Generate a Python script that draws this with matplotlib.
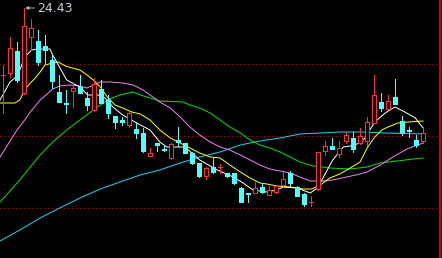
import matplotlib
matplotlib.use("Agg")
import matplotlib.pyplot as plt

# daily candles (price units)
opens = [23.09, 23.13, 23.57, 22.73, 23.85, 23.77, 23.67, 23.39, 22.75, 22.53,
         22.77, 22.85, 22.63, 22.39, 22.81, 22.59, 22.27, 22.19, 22.09, 22.01,
         21.93, 21.47, 21.73, 21.61, 21.43, 21.79, 21.73, 21.53, 21.33, 21.07,
         21.25, 21.25, 21.13, 21.13, 20.83, 20.73, 20.73, 20.85, 20.69, 20.75,
         20.89, 21.13, 20.85, 20.71, 20.55, 20.81, 21.57, 21.67, 21.51, 21.77,
         21.83, 21.73, 21.77, 22.13, 22.55, 22.41, 22.65, 22.17, 21.99, 21.79,
         21.77]
closes = [23.09, 23.63, 22.99, 24.07, 24.03, 23.35, 23.59, 22.97, 22.55, 22.51,
          22.83, 22.73, 22.49, 22.91, 22.53, 22.33, 22.15, 22.15, 22.33, 21.93,
          21.57, 21.53, 21.69, 21.59, 21.71, 21.75, 21.53, 21.33, 21.07, 21.23,
          21.15, 21.25, 21.07, 20.93, 20.55, 20.71, 20.83, 20.75, 20.79, 20.87,
          21.01, 20.93, 20.67, 20.51, 20.55, 21.55, 21.67, 21.61, 21.63, 21.89,
          21.61, 21.87, 22.15, 22.69, 22.43, 22.57, 22.51, 21.93, 21.97, 21.69,
          21.93]
highs = [23.29, 23.85, 23.75, 24.43, 24.21, 23.99, 23.89, 23.49, 23.09, 22.79,
         22.95, 23.09, 22.75, 23.03, 22.99, 22.69, 22.27, 22.25, 22.39, 22.15,
         22.03, 21.63, 21.73, 21.69, 21.73, 22.05, 21.73, 21.55, 21.33, 21.25,
         21.43, 21.31, 21.13, 21.13, 20.85, 20.73, 20.95, 20.93, 20.87, 20.89,
         21.15, 21.17, 20.87, 20.73, 20.67, 21.55, 21.77, 21.83, 21.77, 21.95,
         21.95, 22.03, 22.25, 23.09, 22.73, 22.69, 23.01, 22.27, 22.05, 21.89,
         22.05]
lows = [22.33, 23.05, 22.95, 22.71, 23.59, 23.29, 23.33, 22.83, 22.55, 22.33,
        22.45, 22.73, 22.39, 22.37, 22.53, 22.23, 22.03, 22.09, 22.05, 21.83,
        21.55, 21.47, 21.57, 21.57, 21.41, 21.67, 21.53, 21.31, 21.05, 21.01,
        21.13, 21.13, 21.05, 20.91, 20.55, 20.55, 20.73, 20.73, 20.69, 20.73,
        20.87, 20.87, 20.67, 20.47, 20.47, 20.79, 21.49, 21.61, 21.45, 21.73,
        21.55, 21.71, 21.69, 22.13, 22.37, 22.41, 22.51, 21.89, 21.85, 21.65,
        21.73]

ma5_pos = [-0.43, 1.0, 1.7, 2.4, 3.1, 4.1, 4.9, 6.7, 7.1, 7.9, 9.1, 9.9, 11, 12.1,
           13.6, 14.6, 15.7, 17.1, 19.1, 21, 22.4, 23.4, 26, 28.1, 30.6, 32.9,
           34.3, 35.7, 37.7, 39.1, 40, 42, 43.9, 44.9, 45.7, 47.1, 48.6, 49.6,
           51, 51.7, 53.1, 54.6, 56, 57.4, 58.9, 60]
ma5 = [22.59, 22.95, 23.03, 23.19, 23.45, 23.59, 23.61, 23.61, 23.49, 23.29,
       22.99, 22.93, 22.85, 22.69, 22.69, 22.63, 22.45, 22.29, 22.13, 21.99,
       21.75, 21.65, 21.65, 21.39, 21.19, 21.05, 20.93, 20.79, 20.75, 20.79,
       20.85, 20.83, 20.73, 20.83, 21.03, 21.39, 21.65, 21.67, 21.73, 21.83,
       22.15, 22.33, 22.45, 22.35, 22.23, 22.03]

ma10_pos = [-0.43, 1.7, 2.4, 3.1, 3.9, 4.6, 5.3, 6.0, 7.1, 7.9, 8.9, 9.9, 11, 12,
            12.9, 13.9, 14.9, 16, 17.1, 18.4, 19.6, 21, 22.4, 23.9, 25.3, 26.7,
            28.1, 29.6, 31, 32.4, 33.9, 35.3, 36.7, 37.7, 39.1, 41, 42.9, 44.1,
            45.3, 46.7, 48.1, 49.6, 51, 52.1, 53.1, 54.1, 55, 56.4, 57.9, 60]
ma10 = [22.53, 22.53, 22.59, 22.79, 22.93, 23.03, 23.15, 23.29, 23.33, 23.35,
        23.27, 23.23, 23.19, 23.09, 22.99, 22.85, 22.65, 22.49, 22.43, 22.35,
        22.31, 22.19, 21.99, 21.83, 21.73, 21.63, 21.53, 21.45, 21.43, 21.29,
        21.15, 21.03, 20.93, 20.91, 20.87, 20.85, 20.81, 20.81, 20.89, 21.03,
        21.11, 21.23, 21.35, 21.65, 21.85, 21.99, 22.05, 22.13, 22.15, 22.17]

ma20_pos = [-0.43, 2.0, 3.1, 3.9, 4.6, 5.3, 6.3, 7.1, 8.1, 9.6, 11, 12, 12.9, 13.9,
            15.3, 17.1, 18.6, 20, 21, 22.4, 23.9, 25.3, 26.7, 28.1, 29.6, 31,
            32.4, 33.9, 35.3, 36.7, 38.1, 39.6, 41, 42.4, 43.9, 45.7, 47.1, 49.1,
            51, 52, 53.9, 55.7, 57.7, 60]
ma20 = [21.45, 21.99, 22.19, 22.35, 22.47, 22.59, 22.71, 22.81, 22.87, 22.89,
        22.87, 22.83, 22.89, 22.95, 22.95, 22.93, 22.89, 22.79, 22.69, 22.55,
        22.43, 22.25, 22.05, 21.89, 21.75, 21.65, 21.59, 21.49, 21.39, 21.29,
        21.21, 21.17, 21.13, 21.05, 20.97, 20.97, 20.99, 21.05, 21.11, 21.15,
        21.29, 21.45, 21.61, 21.73]

ma30_pos = [-0.43, 2.4, 3.9, 5.3, 7.1, 9.1, 11, 12.9, 14.9, 16.7, 18.6, 19.6, 22.4,
            25.7, 26.7, 28.1, 29.6, 31, 32.4, 33.9, 35.3, 36.7, 38.1, 39.6, 41,
            42.4, 44.3, 46.7, 49.6, 52, 53.9, 56.3, 58.6, 60]
ma30 = [20.55, 20.99, 21.25, 21.49, 21.75, 21.99, 22.19, 22.39, 22.59, 22.69,
        22.75, 22.69, 22.57, 22.55, 22.49, 22.43, 22.33, 22.19, 22.05, 21.93,
        21.79, 21.69, 21.63, 21.55, 21.45, 21.35, 21.27, 21.23, 21.21, 21.25,
        21.33, 21.37, 21.41, 21.43]

ma60_pos = [-0.43, 2.4, 5.3, 8.1, 11, 13.9, 16.7, 19.6, 22.4, 25.3, 28.1, 31, 33.9,
            36.7, 39.6, 42.4, 45.3, 48.1, 51, 54.6, 60]
ma60 = [19.77, 19.99, 20.23, 20.43, 20.63, 20.81, 20.95, 21.09, 21.19, 21.33,
        21.45, 21.55, 21.69, 21.77, 21.83, 21.91, 21.93, 21.95, 21.95, 21.93,
        21.91]

grid_levels = [23.32, 21.88, 20.43]

up_color = "#FF3232"
down_color = "#54FCFC"
px = 0.72  # one pixel in points

fig = plt.figure(figsize=(4.42, 2.58), dpi=100, facecolor="black")
ax = fig.add_axes([0, 0, 1, 1])
ax.set_facecolor("black")
ax.set_xlim(-0.43, 62.71)
ax.set_ylim(19.43, 24.59)
ax.axis("off")

# dotted price grid and right border
for lvl in grid_levels:
    ax.axhline(lvl, color="#A00000", lw=px, linestyle=(0, (1, 3)),
               antialiased=False, zorder=0)
ax.axvline(62.45, color="#D00000", lw=1.5, zorder=0)

# moving averages
ax.plot(ma60_pos, ma60, color="#1ED2F0", lw=px, zorder=1)
ax.plot(ma30_pos, ma30, color="#00E000", lw=px, zorder=1)
ax.plot(ma20_pos, ma20, color="#F080F0", lw=px, zorder=1)
ax.plot(ma10_pos, ma10, color="#FFFF00", lw=px, zorder=1)
ax.plot(ma5_pos, ma5, color="#FFFFFF", lw=px, zorder=1)

# candles
x = list(range(len(opens)))
colors = [up_color if c >= o else down_color for o, c in zip(opens, closes)]
ax.vlines(x, lows, highs, colors=colors, lw=px, zorder=2, antialiased=False)
bottoms = [min(o, c) for o, c in zip(opens, closes)]
heights = [abs(c - o) for o, c in zip(opens, closes)]
faces = ["black" if col == up_color else col for col in colors]
ax.bar(x, heights, bottom=bottoms, width=0.6, color=faces, edgecolor=colors,
       linewidth=px, zorder=3, antialiased=False)

# mark the highest price
top = max(highs)
top_i = highs.index(top)
ax.annotate(f"{top:.2f}", xy=(top_i + 0.15, top), xytext=(top_i + 1.9, top),
            color="#C8D0D8", fontsize=9, va="center", ha="left",
            arrowprops=dict(arrowstyle="-|>", color="#B0B0B0", lw=px,
                            mutation_scale=5, shrinkA=0, shrinkB=0))

plt.savefig("out.png", dpi=100, facecolor="black")
